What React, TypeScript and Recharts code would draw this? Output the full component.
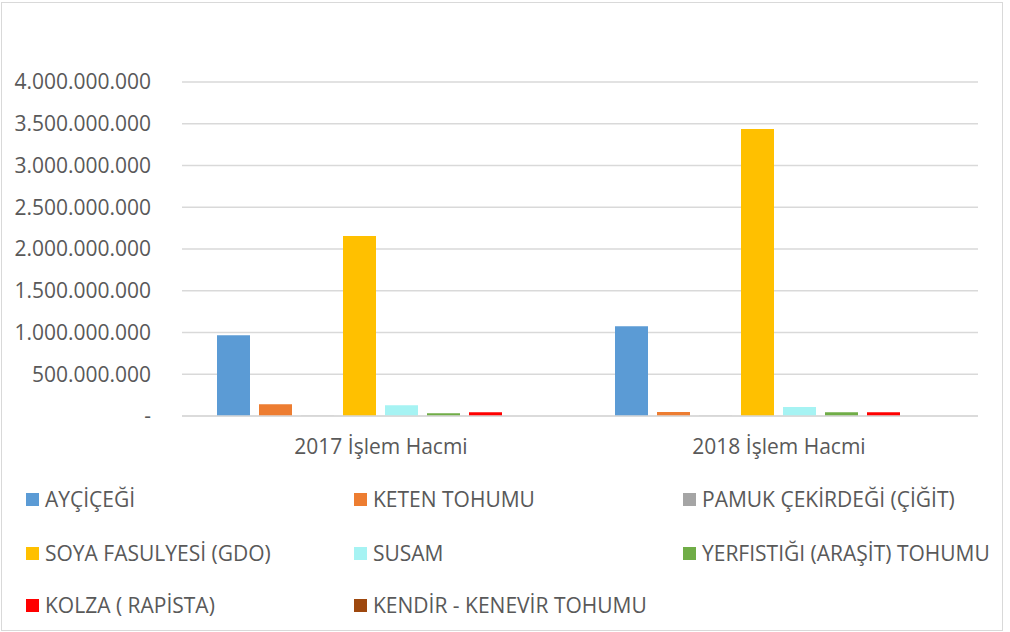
import { BarChart, Bar, XAxis, YAxis, CartesianGrid } from 'recharts';

const categories = ['2017 İşlem Hacmi', '2018 İşlem Hacmi'];

const seriesNames = [
  'AYÇİÇEĞİ',
  'KETEN TOHUMU',
  'PAMUK ÇEKİRDEĞİ (ÇİĞİT)',
  'SOYA FASULYESİ (GDO)',
  'SUSAM',
  'YERFISTIĞI (ARAŞİT) TOHUMU',
  'KOLZA ( RAPİSTA)',
  'KENDİR - KENEVİR TOHUMU',
];

const values2017 = [968000000, 140000000, 1500000, 2155000000, 128000000, 32000000, 44000000, 0];
const values2018 = [1075000000, 48000000, 1500000, 3438000000, 108000000, 44000000, 44000000, 0];

const colors = ['#5B9BD5', '#ED7D31', '#A5A5A5', '#FFC000', '#A6F3F3', '#70AD47', '#FF0000', '#9E480E'];

const yTicks = [0, 500000000, 1000000000, 1500000000, 2000000000, 2500000000, 3000000000, 3500000000, 4000000000];

const data = categories.map((cat, ci) => {
  const row: Record<string, string | number> = { name: cat };
  seriesNames.forEach((s, si) => {
    row['s' + si] = ci === 0 ? values2017[si] : values2018[si];
  });
  return row;
});

const fmt = (v: number) =>
  v === 0 ? '-' : String(v).replace(/\B(?=(\d{3})+(?!\d))/g, '.');

const font = '"Open Sans", "Noto Sans", sans-serif';
const legendCols = [26, 354, 683];
const legendRows = [499, 553, 605];

export default function App() {
  return (
    <div
      style={{
        position: 'absolute',
        left: 0,
        top: 0,
        width: 1010,
        height: 632,
        background: '#fff',
        fontFamily: font,
      }}
    >
      <div
        style={{
          position: 'absolute',
          left: 1,
          top: 2,
          width: 1000,
          height: 627,
          border: '1px solid #d9d9d9',
        }}
      />
      <BarChart
        width={1010}
        height={470}
        data={data}
        margin={{ top: 82, right: 32, left: 12, bottom: 0 }}
        barCategoryGap={35}
        barGap={9}
      >
        <CartesianGrid vertical={false} stroke="#d9d9d9" strokeWidth={1.3} />
        <XAxis
          dataKey="name"
          height={54}
          axisLine={{ stroke: '#d9d9d9', strokeWidth: 1.3 }}
          tickLine={false}
          tickMargin={17}
          tick={{ fill: '#595959', fontSize: 21, fontFamily: font }}
        />
        <YAxis
          width={170}
          domain={[0, 4000000000]}
          ticks={yTicks}
          interval={0}
          axisLine={false}
          tickLine={false}
          tickMargin={25}
          tickFormatter={fmt}
          tick={{ fill: '#595959', fontSize: 21, fontFamily: font }}
        />
        {seriesNames.map((s, i) => (
          <Bar
            key={s}
            dataKey={'s' + i}
            name={s}
            fill={colors[i]}
            isAnimationActive={false}
          />
        ))}
      </BarChart>
      {seriesNames.map((s, i) => (
        <div
          key={s}
          style={{
            position: 'absolute',
            left: legendCols[i % 3],
            top: legendRows[Math.floor(i / 3)] - 13,
            height: 26,
            display: 'flex',
            alignItems: 'center',
            color: '#595959',
            fontSize: 21,
            whiteSpace: 'nowrap',
          }}
        >
          <span
            style={{
              display: 'inline-block',
              width: 13,
              height: 13,
              background: colors[i],
              marginRight: 6,
            }}
          />
          {s}
        </div>
      ))}
    </div>
  );
}
